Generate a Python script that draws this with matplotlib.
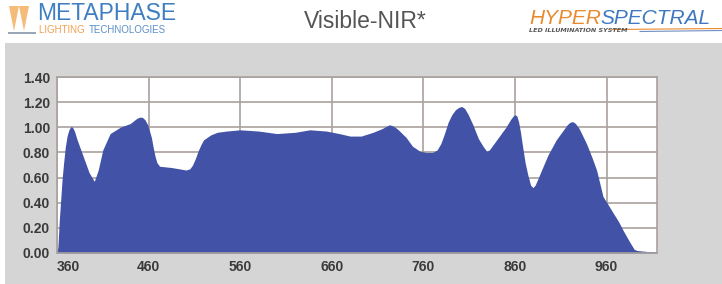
import matplotlib
matplotlib.use("Agg")
import matplotlib.pyplot as plt
import numpy as np
from matplotlib.patches import Rectangle, Polygon

# Data: wavelength (nm) vs relative intensity
wavelength = [360, 361, 362.5, 364, 365.5, 367, 369, 371, 373, 375, 377, 379, 382, 388, 395, 400.7,
              405, 410, 418, 429, 440, 447, 450, 453, 456, 459, 461, 463, 465, 467, 469, 472,
              485, 501, 505, 508, 511, 514, 517, 520, 524, 528, 535, 545, 560, 580, 600, 620,
              636, 654, 668, 680, 692, 705, 715, 720, 723, 727, 731, 734, 741, 748, 756, 763,
              770, 775, 779, 783, 787, 791, 795, 799, 802, 805, 809, 814, 820, 825, 829, 832,
              836, 843, 850, 855, 858, 860, 862, 864, 866, 868, 871, 874, 877, 879.6, 882, 885,
              889, 896, 905, 913, 917, 920, 923, 926, 930, 934, 938, 944, 949, 956, 962, 967,
              973, 978, 985, 990, 993, 1000, 1010, 1015]
intensity = [0.00, 0.05, 0.26, 0.42, 0.58, 0.70, 0.84, 0.93, 0.98, 1.005, 1.00, 0.97, 0.90, 0.78, 0.64, 0.57,
             0.66, 0.82, 0.95, 1.00, 1.03, 1.07, 1.08, 1.08, 1.06, 1.02, 0.97, 0.92, 0.84, 0.77, 0.72, 0.69,
             0.68, 0.66, 0.67, 0.70, 0.75, 0.81, 0.86, 0.90, 0.92, 0.94, 0.96, 0.97, 0.98, 0.97, 0.95, 0.96,
             0.98, 0.97, 0.95, 0.93, 0.93, 0.96, 0.99, 1.01, 1.02, 1.01, 0.99, 0.97, 0.92, 0.85, 0.81, 0.80,
             0.80, 0.82, 0.87, 0.95, 1.04, 1.10, 1.14, 1.16, 1.165, 1.15, 1.10, 1.02, 0.91, 0.85, 0.81, 0.82,
             0.86, 0.93, 1.00, 1.06, 1.09, 1.10, 1.09, 1.04, 0.96, 0.86, 0.72, 0.62, 0.54, 0.52, 0.54, 0.59,
             0.66, 0.78, 0.90, 0.98, 1.02, 1.04, 1.045, 1.03, 0.99, 0.93, 0.87, 0.76, 0.66, 0.45, 0.38, 0.32,
             0.25, 0.18, 0.09, 0.03, 0.02, 0.015, 0.008, 0.005]

x_ticks = [360, 460, 560, 660, 760, 860, 960]
y_ticks = [0.00, 0.20, 0.40, 0.60, 0.80, 1.00, 1.20, 1.40]

W, H = 722, 284
fig = plt.figure(figsize=(W / 100, H / 100), dpi=100)
fig.patch.set_facecolor("white")

# gray panel
fig.patches.append(Rectangle((5 / W, 0), 1 - 5 / W, (H - 43) / H, transform=fig.transFigure,
                             facecolor="#d5d5d5", edgecolor="none", zorder=-10))

ax = fig.add_axes([57 / W, (H - 253) / H, (657 - 57) / W, (253 - 77) / H])
ax.set_zorder(5)
ax.set_facecolor("white")
ax.fill_between(wavelength, intensity, 0, color="#4152a7", linewidth=0, zorder=2)
ax.set_xlim(360, 1015)
ax.set_ylim(0, 1.4)
ax.set_xticks(x_ticks)
ax.set_yticks(y_ticks)
ax.set_xticklabels([str(v) for v in x_ticks])
ax.set_yticklabels([f"{v:.2f}" for v in y_ticks])
grid_c = "#a9a19d"
ax.grid(True, color=grid_c, linewidth=1.2, zorder=1)
ax.set_axisbelow(True)
for s in ax.spines.values():
    s.set_color(grid_c)
    s.set_linewidth(1.2)
ax.tick_params(length=0, labelsize=10, colors="#333333", pad=5)
for lab in ax.get_xticklabels() + ax.get_yticklabels():
    lab.set_fontweight("bold")
    lab.set_family("Liberation Sans")
    lab.set_color("#3a3a3a")
ax.get_xticklabels()[0].set_x(360)
ax.get_xticklabels()[0].set_horizontalalignment("left")

# title
fig.text(365 / W, 1 - 21 / H, "Visible-NIR*", ha="center", va="center",
         fontsize=16.5, color="#555555", family="Liberation Sans")

renderer = fig.canvas.get_renderer()

# Metaphase logo (approximation)
fig.text(37 / W, 1 - 14 / H, "METAPHASE", ha="left", va="center", fontsize=16.5,
         color="#3f7fc1", family="Liberation Sans")
t1 = fig.text(39 / W, 1 - 30 / H, "LIGHTING ", ha="left", va="center", fontsize=7,
              color="#f0a050", family="Liberation Sans")
bb = t1.get_window_extent(renderer)
fig.text((bb.x1 + 1) / W, 1 - 30 / H, "TECHNOLOGIES", ha="left", va="center", fontsize=7,
         color="#5b8fc7", family="Liberation Sans")
for xo in [9, 19]:
    fig.patches.append(Polygon([(xo / W, 1 - 6 / H), ((xo + 10) / W, 1 - 6 / H),
                                ((xo + 5) / W, 1 - 31 / H)], closed=True,
                               transform=fig.transFigure, facecolor="#f4b46a",
                               edgecolor="none", alpha=0.9))
fig.patches.append(Rectangle((8 / W, 1 - 34 / H), 28 / W, 2 / H, transform=fig.transFigure,
                             facecolor="#9aa7b8", edgecolor="none"))

# Hyperspectral logo (approximation)
t2 = fig.text(529 / W, 1 - 18 / H, "HYPER", ha="left", va="center", fontsize=15,
              color="#ea8a2e", family="Liberation Sans", style="italic")
bb2 = t2.get_window_extent(renderer)
fig.text(bb2.x1 / W, 1 - 18 / H, "SPECTRAL", ha="left", va="center", fontsize=15,
         color="#3f78c0", family="Liberation Sans", style="italic")
fig.text(529 / W, 1 - 30 / H, "LED ILLUMINATION SYSTEM", ha="left", va="center", fontsize=4.6,
         color="#555555", family="Liberation Sans Narrow", style="italic", fontweight="bold")
fig.lines.append(plt.Line2D([612 / W, 722 / W], [1 - 29.5 / H, 1 - 28.5 / H], transform=fig.transFigure,
                            color="#ea8a2e", linewidth=0.8))
fig.lines.append(plt.Line2D([640 / W, 722 / W], [1 - 31.5 / H, 1 - 30.5 / H], transform=fig.transFigure,
                            color="#6f8fc5", linewidth=0.8))

fig.savefig("out.png", dpi=100)
